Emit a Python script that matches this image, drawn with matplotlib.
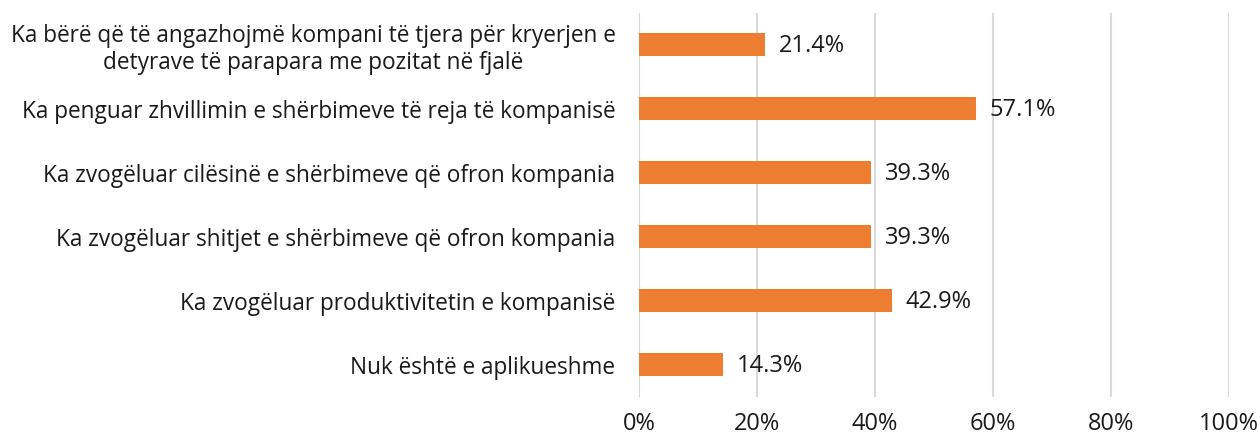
import matplotlib
matplotlib.use("Agg")
import matplotlib.pyplot as plt
from matplotlib.ticker import FuncFormatter

plt.rcParams['font.family'] = ['Open Sans', 'DejaVu Sans']

# data, top to bottom as in the chart
labels = [
    "Ka bërë që të angazhojmë kompani të tjera për kryerjen e\ndetyrave të parapara me pozitat në fjalë",
    "Ka penguar zhvillimin e shërbimeve të reja të kompanisë",
    "Ka zvogëluar cilësinë e shërbimeve që ofron kompania",
    "Ka zvogëluar shitjet e shërbimeve që ofron kompania",
    "Ka zvogëluar produktivitetin e kompanisë",
    "Nuk është e aplikueshme",
]
values = [21.4, 57.1, 39.3, 39.3, 42.9, 14.3]
xticks = [0, 20, 40, 60, 80, 100]

fig = plt.figure(figsize=(12.6, 4.41), dpi=100)
ax = fig.add_axes([639/1260, 1-396.5/441, 590/1260, 384/441])

ypos = list(range(len(values)))
ax.barh(ypos, values, height=0.36, color='#ED7D31', zorder=3)
ax.set_ylim(len(values)-0.5, -0.5)
ax.set_xlim(0, 100)

for y, v in zip(ypos, values):
    ax.annotate("{:.1f}%".format(v), (v, y), xytext=(10, -1), textcoords='offset points',
                va='center', ha='left', fontsize=17, color='#1a1a1a')

ax.set_yticks(ypos)
ax.set_yticklabels(labels, fontsize=16.3, multialignment='center', color='#1a1a1a')
ax.set_xticks(xticks)
ax.xaxis.set_major_formatter(FuncFormatter(lambda x, p: "{:d}%".format(int(x))))
ax.tick_params(axis='x', labelsize=17, length=0, pad=11, labelcolor='#1a1a1a')
ax.tick_params(axis='y', length=0, pad=17)
ax.grid(axis='x', color='#D9D9D9', linewidth=1.5, zorder=0)
ax.set_axisbelow(True)
for s in ax.spines.values():
    s.set_visible(False)

fig.savefig("out.png", dpi=100)
